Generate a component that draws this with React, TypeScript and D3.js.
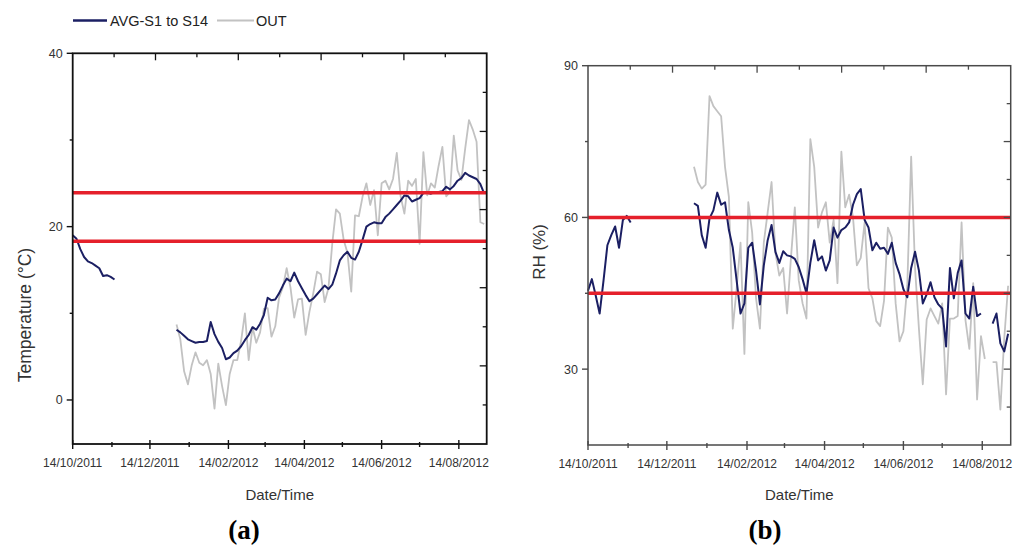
import React from 'react'
import * as d3 from 'd3'

const parse = d3.timeParse('%d/%m/%Y')

// time axis
const dateStart = '14/10/2011'
const dateEnd = '05/09/2012'
const xMajorLabels = ['14/10/2011', '14/12/2011', '14/02/2012', '14/04/2012', '14/06/2012', '14/08/2012']
const xMinorDates = ['14/11/2011', '14/01/2012', '14/03/2012', '14/05/2012', '14/07/2012']

// all series are sampled every 3 days
const stepDays = 3
const seg1Start = '14/10/2011'
const seg2Start = '04/01/2012'

// (a) temperature
const tempTicks = [0, 20, 40]
const tempMinor = [10, 30]
const tempLimits = [23.9, 18.3]
const avgTemp1 = [19.0, 18.6, 17.4, 16.5, 16.0, 15.8, 15.5, 15.2, 14.3, 14.4, 14.2, 13.9]
const avgTemp2 = [
  8.1, 7.8, 7.4, 7.0, 6.8, 6.6, 6.7, 6.7, 6.8, 9.0,
  7.6, 6.7, 6.0, 4.7, 4.9, 5.4, 5.7, 6.2, 6.9, 7.5,
  8.4, 8.1, 8.8, 9.8, 11.8, 11.5, 11.6, 12.3, 13.2, 14.0,
  13.7, 14.7, 13.7, 12.9, 12.1, 11.4, 11.7, 12.2, 12.7, 13.2,
  12.8, 13.3, 14.6, 16.1, 16.7, 17.1, 16.4, 16.2, 17.1, 18.5,
  20.0, 20.3, 20.5, 20.4, 20.4, 21.1, 21.5, 22.0, 22.5, 23.0,
  23.6, 23.5, 22.9, 23.1, 23.3, 23.9, 23.9, 23.8, 24.0, 24.0,
  24.1, 24.6, 24.3, 24.7, 25.3, 25.6, 26.2, 25.9, 25.7, 25.5,
  24.9, 23.8,
]
const outTemp = [
  8.7, 7.0, 3.3, 1.8, 4.0, 5.5, 4.3, 4.0, 4.6, 3.0,
  -1.0, 4.2, 1.6, -0.6, 3.0, 4.6, 4.6, 6.8, 10.0, 4.6,
  8.4, 6.6, 7.8, 10.5, 10.6, 7.3, 8.5, 11.8, 13.0, 15.2,
  13.0, 9.5, 11.6, 11.7, 7.5, 10.2, 12.3, 14.8, 14.5, 11.3,
  12.9, 18.0, 22.0, 21.5, 18.5, 17.0, 12.5, 21.3, 21.2, 23.5,
  25.0, 22.5, 24.2, 19.0, 25.0, 25.3, 24.3, 25.5, 28.5, 23.5,
  21.5, 25.3, 24.7, 25.5, 18.0, 28.6, 23.6, 25.0, 24.5, 27.0,
  29.2, 23.5, 24.0, 30.5, 26.5, 25.4, 29.0, 32.3, 31.2, 29.8,
  20.5, 20.3,
]

// (b) relative humidity
const rhTicks = [30, 60, 90]
const rhMinor = [45, 75]
const rhLimits = [60, 45]
const avgRh1 = [45.5, 47.8, 44.5, 41.0, 47.5, 54.5, 56.5, 58.2, 54.0, 59.5, 60.3, 59.0]
const avgRh2 = [
  62.8, 62.3, 56.5, 54.0, 59.8, 61.4, 64.9, 62.5, 63.0, 57.5,
  54.0, 47.5, 41.0, 43.0, 54.0, 55.0, 49.5, 42.8, 50.5, 55.5,
  58.5, 53.2, 51.0, 53.3, 52.5, 52.3, 51.8, 50.2, 47.8, 45.0,
  51.0, 55.5, 51.5, 52.3, 49.5, 51.5, 58.0, 56.0, 57.5, 58.0,
  59.0, 62.5, 64.6, 65.6, 59.5, 58.0, 53.5, 55.0, 53.8, 54.0,
  52.8, 55.0, 51.0, 48.8, 45.8, 44.2, 50.0, 53.2, 49.5, 43.0,
  44.8, 47.2, 44.2, 42.8, 42.0, 34.5, 50.0, 44.0, 49.0, 51.5,
  41.0, 40.0, 46.3, 40.5, 41.0, null, null, 39.0, 41.0, 35.1,
  33.5, 37.0,
]
const outRh = [
  70.0, 67.0, 65.7, 66.5, 84.0, 82.0, 81.0, 80.0, 70.0, 64.0,
  38.0, 46.0, 55.0, 33.0, 63.0, 57.0, 44.0, 38.0, 55.0, 61.0,
  67.0, 53.0, 48.5, 50.0, 41.0, 52.0, 62.0, 47.6, 43.0, 40.0,
  75.5, 70.0, 58.0, 61.0, 63.0, 55.0, 59.5, 47.0, 73.0, 62.0,
  64.5, 60.0, 50.5, 52.0, 59.0, 46.0, 44.0, 39.5, 38.5, 43.5,
  58.0, 56.0, 43.0, 35.5, 37.5, 46.5, 72.0, 50.0, 38.0, 27.0,
  39.8, 42.0, 40.5, 39.0, 43.0, 25.0, 40.0, 40.0, 40.5, 59.0,
  39.7, 34.0, 47.0, 24.0, 36.5, 32.0, null, 31.4, 31.4, 22.0,
  36.0, 46.5,
]

const AVG_COLOR = '#1b1f63'
const OUT_COLOR = '#c2c2c2'
const RED = '#e5202b'
const FONT = '"Liberation Sans", Arial, sans-serif'

type Pt = { date: Date; value: number | null }

const toSeries = (start: string, values: (number | null)[]): Pt[] =>
  values.map((v, i) => ({ date: d3.timeDay.offset(parse(start) as Date, i * stepDays), value: v }))

const Panel = ({ left, right, top, bottom, yDomain, yTicks, yMinor, limits, avg, out, axisColor, axisWidth, yTitle, yTitleX, yTitleY, yTitleSize, tag, tagX }: any) => {
  const x = d3.scaleTime().domain([parse(dateStart) as Date, parse(dateEnd) as Date]).range([left, right])
  const y = d3.scaleLinear().domain(yDomain).range([bottom, top])
  const line = d3.line<Pt>()
    .defined(d => d.value != null)
    .x(d => x(d.date))
    .y(d => y(d.value as number))
  // mirror axes (top / right) carry 10 unlabeled divisions
  const topScale = d3.scaleLinear().domain([0, 10]).range([left, right])
  const rightScale = d3.scaleLinear().domain([0, 10]).range([bottom, top])
  const mid = (left + right) / 2

  return (
    <g>
      {/* series */}
      <path d={line(out) || ''} fill="none" stroke={OUT_COLOR} strokeWidth={1.8} strokeLinejoin="round" />
      {avg.map((seg: Pt[], i: number) => (
        <path key={i} d={line(seg) || ''} fill="none" stroke={AVG_COLOR} strokeWidth={2} strokeLinejoin="round" />
      ))}
      {/* comfort limits */}
      {limits.map((v: number) => (
        <line key={v} x1={left} x2={right} y1={y(v)} y2={y(v)} stroke={RED} strokeWidth={3.5} />
      ))}

      {/* frame */}
      <rect x={left} y={top} width={right - left} height={bottom - top} fill="none" stroke={axisColor} strokeWidth={axisWidth} />

      {/* top & right inner ticks */}
      {topScale.ticks(10).slice(1, -1).map(t => (
        <line key={'t' + t} x1={topScale(t)} x2={topScale(t)} y1={top} y2={top + (t % 2 === 0 ? 7 : 4)} stroke={axisColor} strokeWidth={1.3} />
      ))}
      {rightScale.ticks(10).slice(1, -1).map(t => (
        <line key={'r' + t} x1={right} x2={right - (t % 2 === 0 ? 7 : 4)} y1={rightScale(t)} y2={rightScale(t)} stroke={axisColor} strokeWidth={1.3} />
      ))}

      {/* y axis */}
      {yTicks.map((t: number) => (
        <g key={'y' + t} transform={`translate(${left},${y(t)})`}>
          <line x1={-6} x2={0} stroke={axisColor} strokeWidth={1.4} />
          <text x={-10} dy="0.35em" textAnchor="end" fontSize={12.5} fill="#333" fontFamily={FONT}>{t}</text>
        </g>
      ))}
      {yMinor.map((t: number) => (
        <line key={'ym' + t} x1={left - 3} x2={left} y1={y(t)} y2={y(t)} stroke={axisColor} strokeWidth={1.4} />
      ))}

      {/* x axis */}
      {xMajorLabels.map(s => {
        const px = x(parse(s) as Date)
        return (
          <g key={s} transform={`translate(${px},${bottom})`}>
            <line y1={-4} y2={5} stroke={axisColor} strokeWidth={1.4} />
            <text y={23} textAnchor="middle" fontSize={12} fill="#333" fontFamily={FONT}>{s}</text>
          </g>
        )
      })}
      {xMinorDates.map(s => {
        const px = x(parse(s) as Date)
        return <line key={s} x1={px} x2={px} y1={bottom - 2} y2={bottom + 3} stroke={axisColor} strokeWidth={1.4} />
      })}

      {/* titles */}
      <text x={mid} y={500} textAnchor="middle" fontSize={15} fill="#333" fontFamily={FONT}>Date/Time</text>
      <text transform={`translate(${yTitleX},${yTitleY}) rotate(-90)`} dy="0.35em" textAnchor="middle" fontSize={yTitleSize} fill="#333" fontFamily={FONT}>{yTitle}</text>
      <text x={tagX} y={539} textAnchor="middle" fontSize={27} fontWeight="bold" fill="#000" fontFamily='"Liberation Serif", "Times New Roman", serif'>
        (<tspan>{tag}</tspan>)
      </text>
    </g>
  )
}

export default function App() {
  const avgA = [toSeries(seg1Start, avgTemp1), toSeries(seg2Start, avgTemp2)]
  const outA = toSeries(seg2Start, outTemp)
  const avgB = [toSeries(seg1Start, avgRh1), toSeries(seg2Start, avgRh2)]
  const outB = toSeries(seg2Start, outRh)

  return (
    <svg width={1024} height={554} style={{ position: 'absolute', left: 0, top: 0, background: '#fff' }}>
      <rect width={1024} height={554} fill="#fff" />

      {/* legend */}
      <line x1={73} x2={107} y1={20.5} y2={20.5} stroke={AVG_COLOR} strokeWidth={2.5} />
      <text x={110} y={26} fontSize={14.5} fill="#222" fontFamily={FONT}>AVG-S1 to S14</text>
      <line x1={217} x2={254} y1={20.5} y2={20.5} stroke={OUT_COLOR} strokeWidth={2} />
      <text x={256} y={26} fontSize={14.5} fill="#222" fontFamily={FONT}>OUT</text>

      <Panel
        left={72.7} right={486.7} top={53.3} bottom={444}
        yDomain={[-5.08, 40]} yTicks={tempTicks} yMinor={tempMinor} limits={tempLimits}
        avg={avgA} out={outA} axisColor="#111" axisWidth={1.8}
        yTitle="Temperature (°C)" yTitleX={25} yTitleY={315} yTitleSize={17.5}
        tag="a" tagX={244}
      />
      <Panel
        left={588} right={1010.7} top={65.7} bottom={445}
        yDomain={[15, 90]} yTicks={rhTicks} yMinor={rhMinor} limits={rhLimits}
        avg={avgB} out={outB} axisColor="#4a4a4a" axisWidth={1.5}
        yTitle="RH (%)" yTitleX={539} yTitleY={252} yTitleSize={17}
        tag="b" tagX={765}
      />
    </svg>
  )
}
